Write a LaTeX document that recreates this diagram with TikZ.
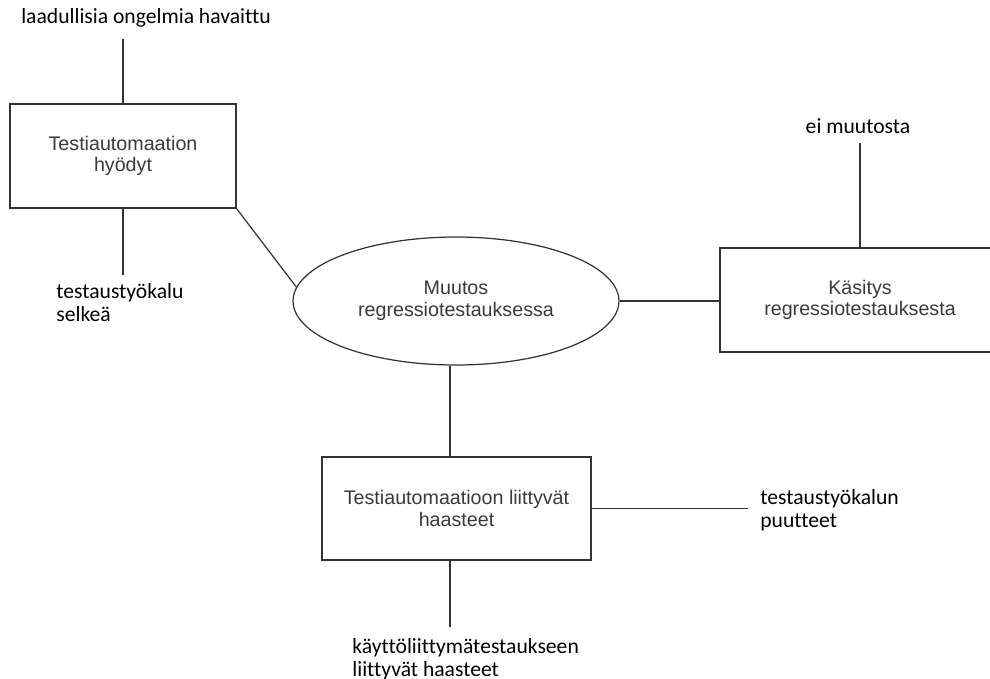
\documentclass[tikz,border=0pt]{standalone}
\usepackage{fontspec}
\setmainfont{Liberation Sans}
\newfontfamily\notefont[Ligatures=NoCommon]{Carlito}
\usetikzlibrary{positioning,shapes.geometric}
\definecolor{linegray}{HTML}{333333}
\definecolor{textgray}{HTML}{3A3A3A}
\tikzset{
  topic/.style={draw=linegray, line width=0.7pt, align=center, inner sep=0pt,
                text=textgray, font=\fontsize{11.2}{12.4}\selectfont},
  core/.style={ellipse, draw=linegray, line width=0.7pt, align=center,
               inner sep=0pt, text=textgray,
               font=\fontsize{11.2}{12.4}\selectfont},
  note/.style={align=left, inner sep=0pt, text=black,
               font=\notefont\fontsize{12.3}{13}\selectfont},
  link/.style={draw=linegray, line width=0.7pt},
}

\begin{document}
\begin{tikzpicture}[x=0.02cm, y=-0.02cm]
        \useasboundingbox (0,0) rectangle (990,679);
        % main topics
        \node[core, minimum width=6.52cm, minimum height=2.56cm] (muutos) at (456,301)
          {Muutos\\regressiotestauksessa};
        \node[topic, minimum width=4.52cm, minimum height=2.08cm] (hyodyt) at (123,156)
          {Testiautomaation\\hyödyt};
        \node[topic, minimum width=5.6cm, minimum height=2.08cm] (kasitys) at (860,300)
          {Käsitys\\regressiotestauksesta};
        \node[topic, minimum width=5.38cm, minimum height=2.06cm] (haasteet) at (456.5,508.5)
          {Testiautomaatioon liittyvät\\haasteet};
        % notes (base = last line)
        \node[note, anchor=base] (laatu) at (146,24) {laadullisia ongelmia havaittu};
        \node[note, anchor=base west] (selkea) at (56,321) {testaustyökalu\\selkeä};
        \node[note, anchor=base] (eimuutos) at (858,133) {ei muutosta};
        \node[note, anchor=base west] (puute) at (760,527) {testaustyökalun\\puutteet};
        \node[note, anchor=base west] (kali) at (352,676)
          {käyttöliittymätestaukseen\\liittyvät haasteet};
        % free ends
        \coordinate (laatuend) at (123,39);
        \coordinate (selkeaend) at (123,275);
        \coordinate (eimuutosend) at (860,143);
        \coordinate (puuteend) at (748,510);
        \coordinate (kaliend) at (450,627);
        % connectors
        \draw[link] (hyodyt.north) -- (laatuend);
        \draw[link] (hyodyt.south) -- (selkeaend);
        \draw[link] (hyodyt.south east) -- (muutos.175);
        \draw[link] (muutos.east) -- (muutos.east -| kasitys.west);
        \draw[link] (kasitys.north) -- (eimuutosend);
        \draw[link] (kaliend |- muutos.south) -- (kaliend |- haasteet.north);
        \draw[link] (haasteet.east) -- (haasteet.east -| puuteend);
        \draw[link] (kaliend |- haasteet.south) -- (kaliend);
      \end{tikzpicture}
\end{document}
